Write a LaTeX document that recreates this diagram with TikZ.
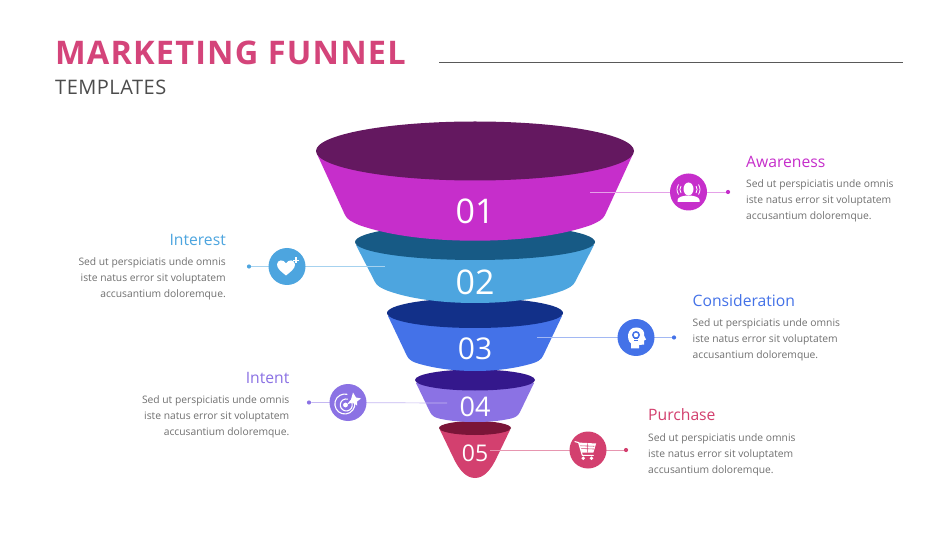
\documentclass[tikz,border=0pt]{standalone}
\usepackage{fontspec}
\setmainfont{Open Sans}
\definecolor{cA}{HTML}{C62ECB}\definecolor{dA}{HTML}{641860}
\definecolor{cB}{HTML}{4DA5DF}\definecolor{dB}{HTML}{175A85}
\definecolor{cC}{HTML}{4472E8}\definecolor{dC}{HTML}{123089}
\definecolor{cD}{HTML}{8B72E4}\definecolor{dD}{HTML}{34188C}
\definecolor{cE}{HTML}{D3406F}\definecolor{dE}{HTML}{7B1538}
\definecolor{ttl}{HTML}{D4447A}\definecolor{txt}{HTML}{707070}
\tikzset{
 num/.style={text=white,font=\fontsize{34}{34}\selectfont,inner sep=0pt,anchor=center},
 badge/.style={circle,minimum size=37pt,inner sep=0pt,fill=#1},
 enddot/.style={circle,minimum size=4.2pt,inner sep=0pt,fill=#1},
 lead/.style={draw=#1,line width=0.7pt},
 head/.style={font=\fontsize{15.7}{16}\selectfont,text=#1,inner sep=0pt},
 bodyL/.style={font=\fontsize{10.3}{16}\selectfont,text=txt,inner sep=0pt,align=left,anchor=north west},
 bodyR/.style={font=\fontsize{10.3}{16}\selectfont,text=txt,inner sep=0pt,align=right,anchor=north east},
}
\newcommand{\lorem}{Sed ut perspiciatis unde omnis\\iste natus error sit voluptatem\\accusantium doloremque.}
\begin{document}
\begin{tikzpicture}[x=1pt,y=-1pt]
\useasboundingbox (0,0) rectangle (950,534);
\fill[white] (0,0) rectangle (950,534);
% title
\node[anchor=base west,inner sep=0pt,text=ttl,font=\fontsize{32.5}{36}\selectfont\bfseries\addfontfeatures{LetterSpace=3.6}] (title) at (55,65) {MARKETING FUNNEL};
\node[anchor=base west,inner sep=0pt,text=black!70,font=\fontsize{20}{22}\selectfont\addfontfeatures{LetterSpace=2.5}] (sub) at (55,94.5) {TEMPLATES};
\coordinate (ruleA) at (439,62.5); \coordinate (ruleB) at (903,62.5);
\draw[black!65,line width=0.7pt] (ruleA) -- (ruleB);
% funnel, bottom to top
\fill[cE] (440,430) -- (453,457) .. controls (459,470) and (466,478) .. (475,478) .. controls (484,478) and (491,470) .. (497,457) -- (510,430) -- cycle;
\fill[dE] (475,428) ellipse [x radius=36,y radius=7];
\fill[cD] (416,383) -- (430,412) .. controls (432,416) and (435,417.5) .. (439,418.5) .. controls (450,421) and (462,422) .. (475,422) .. controls (488,422) and (500,421) .. (511,418.5) .. controls (515,417.5) and (518,416) .. (520,412) -- (534,383) -- cycle;
\fill[dD] (475,380) ellipse [x radius=60,y radius=10.5];
\fill[cC] (388,316) -- (407,356) .. controls (409,360) and (413,362) .. (418,363.5) .. controls (435,368.5) and (455,371) .. (475,371) .. controls (495,371) and (515,368.5) .. (532,363.5) .. controls (537,362) and (541,360) .. (543,356) -- (562,316) -- cycle;
\fill[dC] (475,313) ellipse [x radius=88,y radius=15];
\fill[cB] (356,245) -- (375,282) .. controls (377,286) and (381,288) .. (387,290.5) .. controls (410,299) and (442,303) .. (475,303) .. controls (508,303) and (540,299) .. (563,290.5) .. controls (569,288) and (573,286) .. (575,282) -- (594,245) -- cycle;
\fill[dB] (475,242) ellipse [x radius=120,y radius=18];
\fill[cA] (317,154) -- (345,215) .. controls (347,219.5) and (352,222) .. (359,225) .. controls (390,236) and (432,240.7) .. (475,240.7) .. controls (518,240.7) and (560,236) .. (591,225) .. controls (598,222) and (603,219.5) .. (605,215) -- (633,154) -- cycle;
\fill[dA] (475,151) ellipse [x radius=159,y radius=29.5];
% numbers
\node[num] (n1) at (475,211) {01};
\node[num] (n2) at (475,282) {02};
\node[num,font=\fontsize{30}{30}\selectfont] (n3) at (475,348.5) {03};
\node[num,font=\fontsize{27}{27}\selectfont] (n4) at (475,407) {04};
\node[num,font=\fontsize{23}{23}\selectfont] (n5) at (475,453) {05};
% connector anchors
\coordinate (fa) at (590,192); \coordinate (fb) at (385,266.5);
\coordinate (fc) at (537,337.5); \coordinate (fd) at (447,403); \coordinate (fe) at (490,450);
% badges and dots
\node[enddot=cA] (da) at (728,192) {};
\node[enddot=cB] (db) at (249,266.5) {};
\node[enddot=cC] (dc) at (674,337.5) {};
\node[enddot=cD] (dd) at (309,402.5) {};
\node[enddot=cE] (de) at (626,450) {};
\draw[lead=cA!45] (fa) -- (da);
\draw[lead=cB!50] (fb) -- (db);
\draw[lead=cC!50] (fc) -- (dc);
\draw[lead=cD!50] (fd) -- (dd);
\draw[lead=cE!55] (fe) -- (de);
\node[badge=cA] (ba) at (688.5,192) {};
\node[badge=cB] (bb) at (287,266.5) {};
\node[badge=cC] (bc) at (636,337.5) {};
\node[badge=cD] (bd) at (348,402.5) {};
\node[badge=cE] (be) at (588,450) {};
% icon: person with waves
\begin{scope}[shift={(ba.center)}]
 \fill[white] (-11,10) -- (11,10) -- (11,8) .. controls (11,5) and (5,3.5) .. (0,3.5) .. controls (-5,3.5) and (-11,5) .. (-11,8) -- cycle;
 \fill[white] (0,-3) ellipse [x radius=5,y radius=6.5];
 \draw[white,line width=0.8pt] (-7.5,-6) .. controls (-9,-3.5) and (-9,-1.5) .. (-7.5,1);
 \draw[white,line width=0.8pt] (7.5,-6) .. controls (9,-3.5) and (9,-1.5) .. (7.5,1);
 \draw[white,line width=0.8pt] (-10,-7.5) .. controls (-12,-3.5) and (-12,-1.5) .. (-10,2.5);
 \draw[white,line width=0.8pt] (10,-7.5) .. controls (12,-3.5) and (12,-1.5) .. (10,2.5);
\end{scope}
% icon: heart plus
\begin{scope}[shift={(bb.center)}]
 \fill[white] (-1,9) .. controls (-6,5) and (-10,2) .. (-10,-2) .. controls (-10,-7) and (-3,-7.5) .. (-1,-3) .. controls (1,-7.5) and (8,-7) .. (8,-2) .. controls (8,2) and (4,5) .. (-1,9) -- cycle;
 \draw[white,line width=1.5pt] (9,-9) -- (9,-3) (6,-6) -- (12,-6);
\end{scope}
% icon: head with bulb
\begin{scope}[shift={(bc.center)}]
 \fill[white] (-5,11) -- (-5,6) .. controls (-10,2) and (-9,-10) .. (0,-10) .. controls (7,-10) and (9,-5) .. (8,-2) -- (10,2) -- (8,3) -- (8,7) -- (3,7.5) -- (3,11) -- cycle;
 \fill[cC] (0,-2.5) circle [radius=4];
 \fill[cC] (-2,0) rectangle (2,5);
 \fill[white] (0,-2.5) circle [radius=2.2];
 \draw[white,line width=0.6pt] (-1.7,2) -- (1.7,2) (-1.7,3.6) -- (1.7,3.6);
\end{scope}
% icon: target with star
\begin{scope}[shift={(bd.center)}]
 \draw[white,line width=1.1pt] (5.5,-3.5) arc [start angle=30,end angle=-285,radius=10pt];
 \draw[white,line width=1.1pt] (3.2,-1) arc [start angle=35,end angle=-285,radius=6pt];
 \fill[white] (-2.5,2.5) circle [radius=2.4];
 \fill[white] (-1,2) -- (3,-3) -- (5,-10) -- (8,-5) -- (13,-4) -- (9,-1) -- (9,3) -- (4,0) -- cycle;
\end{scope}
% icon: cart
\begin{scope}[shift={(be.center)},xshift=-2pt,yshift=1pt,scale=0.92]
 \fill[white] (-8,-7) -- (11,-6) -- (8,4) -- (-4.5,4) -- cycle;
 \draw[white,line width=1.1pt,line cap=round,line join=round] (-12,-8) -- (-8,-7) -- (-4,7) -- (8,7);
 \fill[white] (-3,10) circle [radius=2];
 \fill[white] (6,10) circle [radius=2];
 \draw[cE,line width=0.6pt] (-6,-3.5) -- (9,-3) (-5,-0.5) -- (8.5,0) (1.5,-6) -- (1.5,4);
\end{scope}
% labels
\node[head=cA,anchor=base west] (ha) at (746,167.5) {Awareness};
\node[bodyL] (ta) at (746,179.5) {\lorem};
\node[head=cB,anchor=base east] (hb) at (226,245.5) {Interest};
\node[bodyR] (tb) at (226,257.5) {\lorem};
\node[head=cC,anchor=base west] (hc) at (692.5,306.5) {Consideration};
\node[bodyL] (tc) at (692.5,318.5) {\lorem};
\node[head=cD,anchor=base east] (hd) at (289.5,383.5) {Intent};
\node[bodyR] (td) at (289.5,395.5) {\lorem};
\node[head=cE,anchor=base west] (he) at (648,420) {Purchase};
\node[bodyL] (te) at (648,433) {\lorem};
\end{tikzpicture}
\end{document}
